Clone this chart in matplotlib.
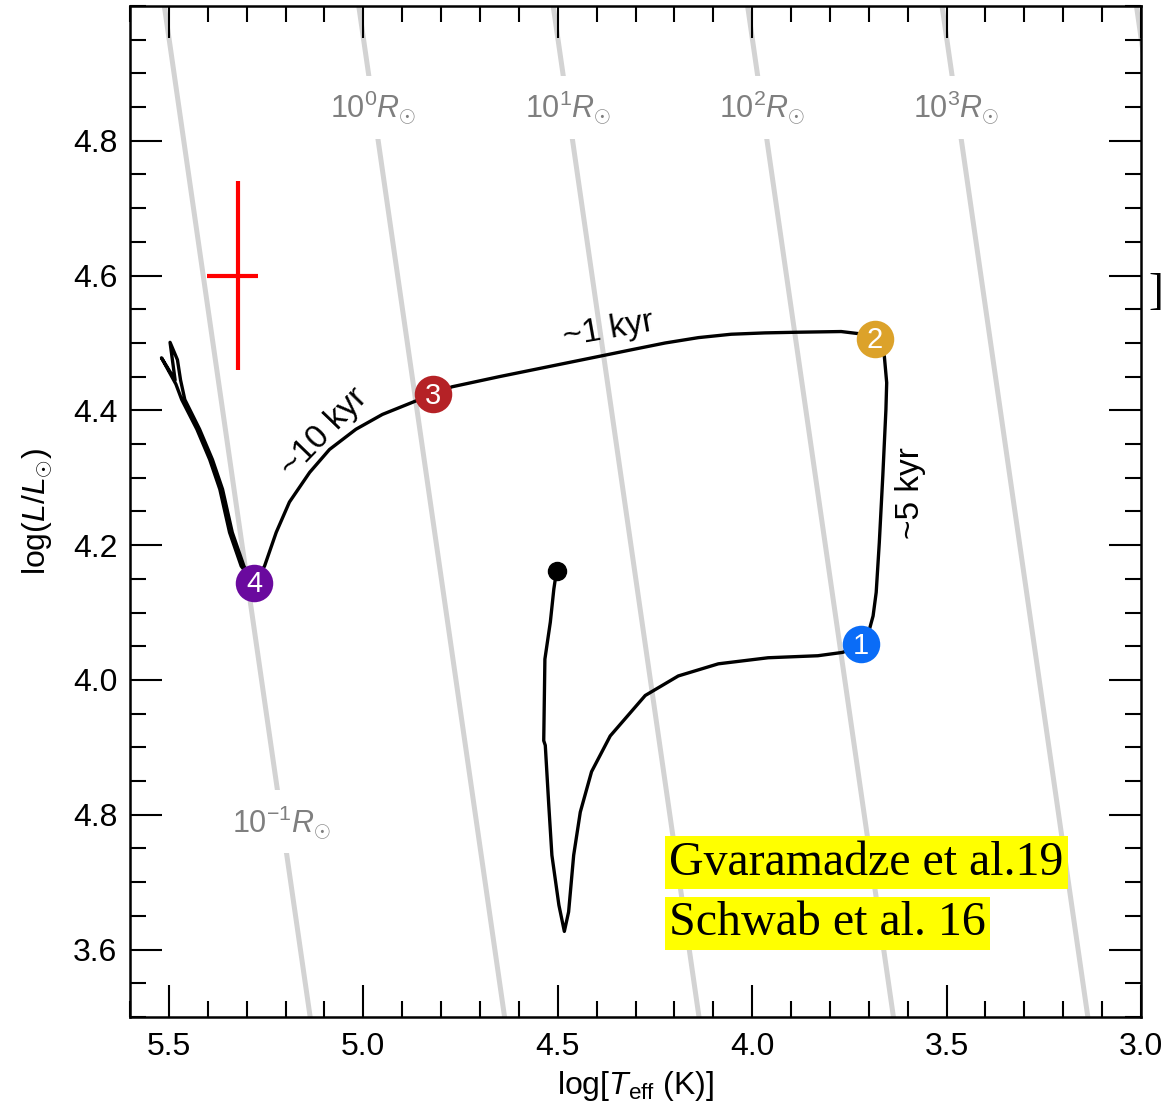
import numpy as np
import matplotlib
matplotlib.use("Agg")
from matplotlib import pyplot as plt
from matplotlib.ticker import MultipleLocator, FixedLocator, FixedFormatter

plt.rcParams["font.family"] = ["Liberation Sans", "DejaVu Sans"]
plt.rcParams["mathtext.fontset"] = "custom"
plt.rcParams["mathtext.rm"] = "Liberation Sans"
plt.rcParams["mathtext.it"] = "Liberation Sans:italic"

# evolutionary track (log Teff, log L)
track_logT = [4.503, 4.510, 4.519, 4.533, 4.536, 4.532, 4.523, 4.515, 4.497, 4.483,
              4.472, 4.459, 4.442, 4.413, 4.365, 4.275, 4.190, 4.087, 3.959, 3.831,
              3.767, 3.721,
              3.698, 3.689, 3.681, 3.673, 3.664, 3.656, 3.654, 3.660, 3.684,
              3.728, 3.771, 3.882, 3.967, 4.054, 4.138, 4.224, 4.310, 4.395, 4.523,
              4.651, 4.772, 4.820,
              4.865, 4.951, 5.019, 5.087, 5.138, 5.190, 5.224, 5.254, 5.281,
              5.314, 5.344, 5.369, 5.395, 5.428, 5.467, 5.482, 5.519, 5.484,
              5.497, 5.478, 5.470, 5.459, 5.421, 5.388, 5.362, 5.337, 5.307, 5.282]
track_logL = [4.162, 4.135, 4.086, 4.031, 3.910, 3.903, 3.814, 3.740, 3.666, 3.627,
              3.656, 3.740, 3.804, 3.864, 3.917, 3.977, 4.006, 4.024, 4.033, 4.036,
              4.041, 4.053,
              4.076, 4.095, 4.130, 4.204, 4.303, 4.401, 4.441, 4.480, 4.506,
              4.514, 4.517, 4.516, 4.515, 4.513, 4.508, 4.500, 4.490, 4.480, 4.465,
              4.450, 4.435, 4.424,
              4.414, 4.394, 4.372, 4.342, 4.308, 4.264, 4.219, 4.169, 4.144,
              4.169, 4.219, 4.283, 4.327, 4.372, 4.416, 4.439, 4.478, 4.445,
              4.501, 4.475, 4.445, 4.416, 4.372, 4.327, 4.283, 4.219, 4.169, 4.144]

# numbered stages
stage_labels = ["1", "2", "3", "4"]
stage_logT = [3.721, 3.684, 4.820, 5.281]
stage_logL = [4.053, 4.506, 4.424, 4.144]
stage_colors = ["#0a6cf7", "#dca22a", "#b52226", "#6a0a9e"]

# observed position with error bars
obs_logT = 5.322
obs_logL = 4.60
obs_xerr = [[0.051], [0.080]]
obs_yerr = 0.14

# timescale annotations
time_labels = ["~1 kyr", "~10 kyr", "~5 kyr"]
time_logT = [4.369, 5.102, 3.594]
time_logL = [4.519, 4.367, 4.278]
time_rot = [10, 46, 90]

# constant radius lines
radius_exp = [-1, 0, 1, 2, 3, 4]
label_exp = [-1, 0, 1, 2, 3]
label_logL = [3.79, 4.85, 4.85, 4.85, 4.85]

ytick_vals = [3.6, 3.8, 4.0, 4.2, 4.4, 4.6, 4.8]
ytick_labels = ["3.6", "4.8", "4.0", "4.2", "4.4", "4.6", "4.8"]

LOG_TSUN = 3.7617


def radius_logT(logL, e):
    return (np.asarray(logL) - 2 * e) / 4 + LOG_TSUN


fig = plt.figure(figsize=(11.61, 11.14), dpi=100)
ax = fig.add_axes([130 / 1161, 1 - 1017 / 1114, 1011 / 1161, 1011 / 1114])

yy = np.array([3.4, 5.1])
for e in radius_exp:
    ax.plot(radius_logT(yy, e), yy, color="#d3d3d3", lw=3.6, zorder=1,
            solid_capstyle="butt")
for e, ly in zip(label_exp, label_logL):
    ax.text(radius_logT(ly, e), ly, rf"$10^{{{e}}}R_{{\odot}}$", color="#7f7f7f",
            fontsize=22, ha="center", va="center", zorder=2,
            bbox=dict(facecolor="white", edgecolor="none", pad=9))

ax.plot(track_logT, track_logL, color="black", lw=2.4, zorder=3,
        solid_joinstyle="round")
ax.plot(track_logT[0], track_logL[0], "o", color="black", ms=13, zorder=4)

for lab, x, y, c in zip(stage_labels, stage_logT, stage_logL, stage_colors):
    ax.plot(x, y, "o", color=c, ms=27, mec="none", zorder=5)
    ax.text(x, y - 0.002, lab, color="white", fontsize=21, ha="center",
            va="center", zorder=6)

ax.errorbar(obs_logT, obs_logL, xerr=obs_xerr, yerr=obs_yerr, color="red",
            lw=3, capsize=0, zorder=4, solid_capstyle="round")

for lab, x, y, r in zip(time_labels, time_logT, time_logL, time_rot):
    ax.text(x, y, lab, fontsize=24, rotation=r, ha="center", va="center",
            rotation_mode="anchor", zorder=4)

ax.text(0.533, 0.131, "Gvaramadze et al.19", transform=ax.transAxes,
        family="Liberation Serif", fontsize=34.5, ha="left", va="bottom",
        bbox=dict(facecolor="#ffff00", edgecolor="none", pad=3), zorder=7)
ax.text(0.533, 0.071, "Schwab et al. 16", transform=ax.transAxes,
        family="Liberation Serif", fontsize=34.5, ha="left", va="bottom",
        bbox=dict(facecolor="#ffff00", edgecolor="none", pad=3), zorder=7)

fig.text(1148 / 1161, 1 - 293 / 1114, "]", family="Liberation Serif",
         fontsize=32, ha="left", va="center")

ax.set_xlim(5.6, 3.0)
ax.set_ylim(3.5, 5.0)
ax.xaxis.set_major_locator(MultipleLocator(0.5))
ax.xaxis.set_minor_locator(MultipleLocator(0.1))
ax.yaxis.set_major_locator(FixedLocator(ytick_vals))
ax.yaxis.set_major_formatter(FixedFormatter(ytick_labels))
ax.yaxis.set_minor_locator(MultipleLocator(0.05))
ax.xaxis.set_major_formatter(lambda v, p: f"{v:.1f}")

ax.tick_params(which="both", direction="in", top=True, right=True,
               labelsize=23, width=1.5, color="black")
ax.tick_params(which="major", length=23)
ax.tick_params(which="minor", length=11.5)
ax.tick_params(axis="x", pad=11)
ax.tick_params(axis="y", pad=9)
for s in ax.spines.values():
    s.set_linewidth(1.8)

ax.set_xlabel(r"log[$T_{\rm eff}$ (K)]", fontsize=23, labelpad=5)
ax.set_ylabel(r"log($L/L_{\odot}$)", fontsize=23, labelpad=14)

fig.savefig("out.png", dpi=100)
